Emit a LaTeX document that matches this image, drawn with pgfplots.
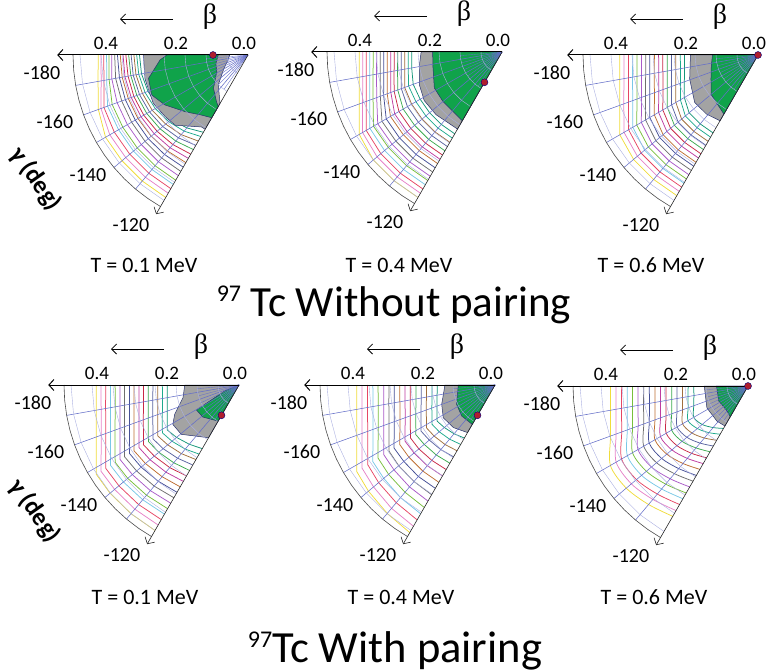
\documentclass[border=0pt]{standalone}
\usepackage{pgfplots}
\pgfplotsset{compat=1.18}
\usepackage{pgfplotstable}
\usepackage{fontspec}
\setmainfont{Carlito}
\newfontfamily\serifb{Liberation Serif}
\usetikzlibrary{arrows.meta}

\definecolor{c0}{RGB}{240,220,60}
\definecolor{c1}{RGB}{230,130,200}
\definecolor{c2}{RGB}{230,70,100}
\definecolor{c3}{RGB}{120,200,230}
\definecolor{c4}{RGB}{120,190,60}
\definecolor{c5}{RGB}{170,90,200}
\definecolor{c6}{RGB}{110,110,110}
\definecolor{c7}{RGB}{70,80,150}
\definecolor{c8}{RGB}{190,110,50}
\definecolor{c9}{RGB}{190,60,160}
\definecolor{c10}{RGB}{200,40,70}
\definecolor{c11}{RGB}{60,170,80}
\definecolor{c12}{RGB}{90,100,160}
\definecolor{c13}{RGB}{160,110,60}
\definecolor{c14}{RGB}{30,170,140}
\definecolor{c15}{RGB}{20,150,120}
\definecolor{rgreen}{RGB}{16,163,74}
\definecolor{rgray}{RGB}{163,163,163}
\definecolor{bnd}{RGB}{40,50,110}
\definecolor{meshc}{RGB}{100,110,200}
\definecolor{dotred}{RGB}{175,30,45}

\pgfplotsset{
 panel/.style={x=350pt,y=350pt,xmin=-0.62,xmax=0.05,ymin=-0.56,ymax=0.05,
   hide axis,clip=false,data cs=polar,anchor=south west},
 cl/.style={line width=0.75pt,mark=none},
}

\pgfplotstableread{
g c0 c1 c2 c3 c4 c5 c6 c7 c8 c9 c10 c11 c12 c13 c14 c15
-180 0.428 0.420 0.412 0.404 0.397 0.389 0.381 0.373 0.365 0.357 0.349 0.341 0.334 0.326 0.318 0.310
-170 0.435 0.426 0.418 0.410 0.403 0.395 0.384 0.373 0.365 0.357 0.348 0.340 0.333 0.325 0.317 0.309
-160 0.455 0.447 0.438 0.427 0.413 0.398 0.384 0.373 0.364 0.355 0.347 0.338 0.330 0.321 0.313 0.304
-150 0.470 0.456 0.441 0.427 0.413 0.398 0.384 0.372 0.363 0.353 0.344 0.334 0.325 0.316 0.306 0.296
-140 0.470 0.456 0.441 0.427 0.413 0.398 0.384 0.372 0.361 0.350 0.339 0.328 0.318 0.307 0.296 0.286
-130 0.470 0.456 0.441 0.427 0.413 0.398 0.384 0.371 0.358 0.346 0.334 0.321 0.309 0.297 0.284 0.272
-120 0.470 0.456 0.441 0.427 0.413 0.398 0.384 0.370 0.355 0.341 0.327 0.312 0.298 0.284 0.269 0.255
}\tabA

\pgfplotstableread{
g c0 c1 c2 c3 c4 c5 c6 c7 c8 c9 c10 c11 c12 c13 c14 c15
-180 0.408 0.398 0.388 0.378 0.368 0.358 0.348 0.338 0.328 0.318 0.308 0.298 0.288 0.278 0.268 0.258
-170 0.414 0.404 0.394 0.384 0.374 0.364 0.353 0.343 0.333 0.323 0.313 0.303 0.292 0.282 0.272 0.262
-160 0.434 0.424 0.413 0.402 0.392 0.381 0.370 0.360 0.349 0.338 0.328 0.317 0.306 0.296 0.284 0.270
-150 0.471 0.460 0.448 0.436 0.424 0.410 0.396 0.382 0.368 0.354 0.340 0.326 0.312 0.298 0.284 0.270
-140 0.480 0.466 0.452 0.438 0.424 0.410 0.396 0.382 0.368 0.354 0.340 0.326 0.312 0.298 0.284 0.270
-130 0.480 0.466 0.452 0.438 0.424 0.410 0.396 0.382 0.368 0.354 0.340 0.326 0.312 0.298 0.284 0.270
-120 0.480 0.466 0.452 0.438 0.424 0.410 0.396 0.382 0.368 0.354 0.340 0.326 0.312 0.298 0.284 0.270
}\tabB

\pgfplotstableread{
g c0 c1 c2 c3 c4 c5 c6 c7 c8 c9 c10 c11 c12 c13 c14 c15
-180 0.395 0.383 0.370 0.358 0.346 0.333 0.321 0.309 0.296 0.284 0.272 0.259 0.247 0.235 0.222 0.210
-170 0.401 0.389 0.376 0.364 0.351 0.338 0.326 0.314 0.301 0.288 0.276 0.263 0.251 0.239 0.225 0.213
-160 0.420 0.408 0.394 0.381 0.368 0.354 0.342 0.329 0.315 0.302 0.289 0.276 0.263 0.250 0.236 0.224
-150 0.456 0.442 0.427 0.413 0.400 0.385 0.371 0.357 0.342 0.328 0.314 0.299 0.285 0.271 0.256 0.243
-140 0.464 0.450 0.436 0.423 0.409 0.395 0.381 0.367 0.354 0.340 0.326 0.312 0.298 0.285 0.271 0.257
-130 0.464 0.450 0.436 0.423 0.409 0.395 0.381 0.367 0.354 0.340 0.326 0.312 0.298 0.285 0.271 0.257
-120 0.464 0.450 0.436 0.423 0.409 0.395 0.381 0.367 0.354 0.340 0.326 0.312 0.298 0.285 0.271 0.257
}\tabC

\pgfplotstableread{
g c0 c1 c2 c3 c4 c5 c6 c7 c8 c9 c10 c11 c12 c13 c14 c15
-180 0.408 0.394 0.381 0.367 0.354 0.340 0.327 0.313 0.300 0.286 0.273 0.259 0.246 0.232 0.219 0.205
-170 0.414 0.400 0.387 0.373 0.359 0.345 0.332 0.318 0.305 0.290 0.277 0.263 0.250 0.236 0.222 0.208
-160 0.434 0.419 0.405 0.391 0.377 0.362 0.348 0.333 0.319 0.304 0.291 0.276 0.262 0.247 0.233 0.218
-150 0.471 0.455 0.440 0.424 0.409 0.393 0.378 0.361 0.346 0.330 0.315 0.299 0.284 0.268 0.253 0.237
-148 0.481 0.465 0.449 0.433 0.417 0.401 0.386 0.369 0.354 0.337 0.322 0.305 0.290 0.274 0.258 0.242
-140 0.481 0.464 0.448 0.431 0.415 0.398 0.382 0.365 0.349 0.332 0.316 0.299 0.283 0.266 0.250 0.233
-130 0.480 0.463 0.446 0.428 0.411 0.394 0.377 0.359 0.342 0.325 0.308 0.290 0.273 0.256 0.239 0.221
-120 0.480 0.462 0.444 0.426 0.408 0.390 0.372 0.354 0.336 0.318 0.300 0.282 0.264 0.246 0.228 0.210
}\tabD

\pgfplotstableread{
g c0 c1 c2 c3 c4 c5 c6 c7 c8 c9 c10 c11 c12 c13 c14 c15
-180 0.395 0.380 0.364 0.349 0.334 0.318 0.303 0.288 0.272 0.257 0.242 0.226 0.211 0.196 0.180 0.165
-170 0.401 0.386 0.370 0.354 0.339 0.323 0.308 0.292 0.276 0.261 0.246 0.229 0.214 0.199 0.183 0.168
-160 0.420 0.404 0.387 0.371 0.355 0.338 0.322 0.306 0.289 0.273 0.258 0.241 0.225 0.209 0.192 0.176
-150 0.456 0.439 0.420 0.403 0.386 0.367 0.350 0.333 0.314 0.297 0.279 0.261 0.244 0.226 0.208 0.191
-148 0.466 0.448 0.429 0.412 0.394 0.375 0.357 0.340 0.321 0.303 0.285 0.267 0.249 0.231 0.212 0.195
-140 0.472 0.453 0.434 0.415 0.397 0.377 0.359 0.340 0.321 0.302 0.284 0.264 0.245 0.227 0.208 0.189
-130 0.479 0.460 0.439 0.420 0.400 0.380 0.360 0.341 0.321 0.301 0.281 0.261 0.241 0.222 0.202 0.182
-120 0.487 0.466 0.445 0.425 0.404 0.383 0.362 0.341 0.321 0.300 0.279 0.258 0.237 0.217 0.196 0.175
}\tabE

\pgfplotstableread{
g c0 c1 c2 c3 c4 c5 c6 c7 c8 c9 c10 c11 c12 c13 c14 c15
-180 0.393 0.377 0.361 0.345 0.330 0.314 0.298 0.282 0.266 0.250 0.234 0.218 0.203 0.187 0.171 0.155
-170 0.399 0.383 0.367 0.350 0.335 0.319 0.303 0.286 0.270 0.254 0.238 0.221 0.206 0.190 0.174 0.157
-160 0.418 0.401 0.384 0.367 0.351 0.334 0.317 0.300 0.283 0.266 0.249 0.232 0.216 0.199 0.182 0.165
-150 0.454 0.435 0.417 0.398 0.381 0.363 0.344 0.326 0.307 0.289 0.270 0.252 0.234 0.216 0.198 0.179
-148 0.463 0.445 0.426 0.407 0.389 0.370 0.351 0.333 0.314 0.295 0.276 0.257 0.239 0.221 0.202 0.183
-140 0.454 0.435 0.416 0.397 0.379 0.360 0.341 0.322 0.303 0.284 0.265 0.246 0.228 0.209 0.189 0.171
-130 0.442 0.423 0.403 0.384 0.366 0.346 0.327 0.308 0.289 0.270 0.251 0.231 0.213 0.194 0.174 0.155
-120 0.430 0.411 0.391 0.372 0.353 0.333 0.314 0.295 0.275 0.256 0.237 0.217 0.198 0.179 0.159 0.140
}\tabF

\newcommand{\contours}[2][]{%
\addplot[cl,c0,#1] table[x=g,y=c0]{#2};
\addplot[cl,c1,#1] table[x=g,y=c1]{#2};
\addplot[cl,c2,#1] table[x=g,y=c2]{#2};
\addplot[cl,c3,#1] table[x=g,y=c3]{#2};
\addplot[cl,c4,#1] table[x=g,y=c4]{#2};
\addplot[cl,c5,#1] table[x=g,y=c5]{#2};
\addplot[cl,c6,#1] table[x=g,y=c6]{#2};
\addplot[cl,c7,#1] table[x=g,y=c7]{#2};
\addplot[cl,c8,#1] table[x=g,y=c8]{#2};
\addplot[cl,c9,#1] table[x=g,y=c9]{#2};
\addplot[cl,c10,#1] table[x=g,y=c10]{#2};
\addplot[cl,c11,#1] table[x=g,y=c11]{#2};
\addplot[cl,c12,#1] table[x=g,y=c12]{#2};
\addplot[cl,c13,#1] table[x=g,y=c13]{#2};
\addplot[cl,c14,#1] table[x=g,y=c14]{#2};
\addplot[cl,c15,#1] table[x=g,y=c15]{#2};
}

\newcommand{\mesh}{%
\pgfplotsinvokeforeach{-170,-160,-150,-140,-130}{\addplot[meshc,line width=0.55pt,mark=none] coordinates {(##1,0) (##1,0.5)};}%
\pgfplotsinvokeforeach{-175,-165,-155,-145,-135,-125}{\addplot[meshc,line width=0.35pt,mark=none] coordinates {(##1,0) (##1,0.12)};}%
\pgfplotsinvokeforeach{0.06,0.12,0.18,0.24,0.30,0.36,0.42,0.48}{\addplot[meshc!55,line width=0.4pt,mark=none] coordinates {(-180,##1) (-170,##1) (-160,##1) (-150,##1) (-140,##1) (-130,##1) (-120,##1)};}%
}

\newcommand{\outline}{%
\addplot[black!70,line width=0.6pt,mark=none] coordinates {(-180,0.5) (-175,0.5) (-170,0.5) (-165,0.5) (-160,0.5) (-155,0.5) (-150,0.5) (-145,0.5) (-140,0.5) (-135,0.5) (-130,0.5) (-125,0.5) (-120,0.5)};
\addplot[black!85,line width=0.6pt,mark=none,-{Straight Barb[length=5pt,width=11pt]}] coordinates {(-120,0) (-120,0.525)};
\addplot[black,line width=1pt,mark=none,-{Straight Barb[length=5pt,width=11pt]}] coordinates {(-180,0) (-180,0.545)};
}

\newcommand{\rdot}[2]{\addplot[only marks,mark=*,mark size=3.5pt,mark options={fill=dotred,draw=blue!50!black,line width=0.4pt}] coordinates {(#1,#2)};}

\newcommand{\plabels}[2]{%
\node[font=\fontsize{19}{19}\selectfont] at ({#1-4},{-#2+12}) {0.0};
\node[font=\fontsize{19}{19}\selectfont] at ({#1-72},{-#2+12}) {0.2};
\node[font=\fontsize{19}{19}\selectfont] at ({#1-142},{-#2+12}) {0.4};
\draw[line width=0.8pt,-{Straight Barb[length=5pt,width=10pt]}] ({#1-75},{-#2+36}) -- ({#1-128},{-#2+36});
\node[font=\serifb\fontsize{28}{28}\selectfont] at ({#1-38},{-#2+38}) {β};
\node[font=\fontsize{20}{20}\selectfont] at ({#1-206},{-#2-18}) {-180};
\node[font=\fontsize{20}{20}\selectfont] at ({#1-193},{-#2-67}) {-160};
\node[font=\fontsize{20}{20}\selectfont] at ({#1-160},{-#2-120}) {-140};
\node[font=\fontsize{20}{20}\selectfont] at ({#1-117},{-#2-170}) {-120};
}

\begin{document}
\begin{tikzpicture}[x=1pt,y=1pt]
\useasboundingbox (0pt,0pt) rectangle (769pt,-672pt);

% ---------- Panel 1: no pairing, T=0.1
\begin{axis}[panel,at={(31pt,-251pt)}]
\contours{\tabA}
\addplot[fill=rgray,draw=bnd,line width=0.5pt] coordinates {(-180,0.052) (-180,0.299) (-167,0.302) (-153,0.304) (-143.4,0.295) (-136,0.289) (-123,0.245) (-120,0.245) (-120,0.16) (-135,0.12) (-150,0.08) (-165,0.06) (-180,0.052)};
\addplot[fill=rgreen,draw=bnd,line width=0.5pt] coordinates {(-180,0.232) (-176.7,0.252) (-166.8,0.292) (-157.5,0.298) (-149,0.277) (-138,0.242) (-127.7,0.217) (-120,0.207) (-120,0.17) (-124,0.161) (-136,0.137) (-152,0.101) (-165,0.095) (-180,0.085) (-180,0.232)};
\mesh
\outline
\rdot{-180}{0.10}
\end{axis}

% ---------- Panel 2: no pairing, T=0.4
\begin{axis}[panel,at={(285pt,-248pt)}]
\contours{\tabB}
\addplot[fill=rgray,draw=bnd,line width=0.5pt] coordinates {(-180,0) (-180,0.231) (-171,0.239) (-158.4,0.254) (-148,0.262) (-136.5,0.26) (-121.2,0.254) (-120,0.255) (-120,0) (-180,0)};
\addplot[fill=rgreen,draw=bnd,line width=0.5pt] coordinates {(-180,0) (-180,0.198) (-169.6,0.201) (-152,0.219) (-140.3,0.220) (-129.7,0.220) (-120,0.227) (-120,0) (-180,0)};
\mesh
\outline
\rdot{-120}{0.10}
\end{axis}

% ---------- Panel 3: no pairing, T=0.6
\begin{axis}[panel,at={(541pt,-251pt)}]
\contours{\tabC}
\addplot[fill=rgray,draw=bnd,line width=0.5pt] coordinates {(-180,0) (-180,0.193) (-160.6,0.207) (-143.2,0.226) (-131.2,0.224) (-120,0.217) (-120,0) (-180,0)};
\addplot[fill=rgreen,draw=bnd,line width=0.5pt] coordinates {(-180,0) (-180,0.130) (-167,0.137) (-153.6,0.150) (-140,0.175) (-120,0.195) (-120,0) (-180,0)};
\mesh
\outline
\rdot{-180}{0}
\end{axis}

% ---------- Panel 4: pairing, T=0.1
\begin{axis}[panel,at={(22pt,-581pt)}]
\contours{\tabD}
\addplot[fill=rgray,draw=bnd,line width=0.5pt] coordinates {(-180,0) (-180,0.155) (-167.3,0.164) (-155.5,0.202) (-149.2,0.22) (-139.5,0.217) (-131,0.193) (-120,0.174) (-120,0) (-180,0)};
\addplot[fill=rgreen,draw=bnd,line width=0.5pt] coordinates {(-155,0) (-157.3,0.044) (-152.5,0.078) (-149.6,0.141) (-138.4,0.138) (-128.9,0.126) (-120,0.119) (-120,0) (-155,0)};
\mesh
\outline
\rdot{-120}{0.10}
\end{axis}

% ---------- Panel 5: pairing, T=0.4
\begin{axis}[panel,at={(278pt,-581pt)}]
\contours{\tabE}
\addplot[fill=rgray,draw=bnd,line width=0.5pt] coordinates {(-180,0) (-180,0.143) (-160.1,0.162) (-147.7,0.175) (-134.3,0.170) (-120,0.157) (-120,0) (-180,0)};
\addplot[fill=rgreen,draw=bnd,line width=0.5pt] coordinates {(-180,0) (-180,0.105) (-153.2,0.123) (-137.1,0.130) (-123.6,0.129) (-120,0.13) (-120,0) (-180,0)};
\mesh
\outline
\rdot{-120}{0.10}
\end{axis}

% ---------- Panel 6: pairing, T=0.6
\begin{axis}[panel,at={(531pt,-582pt)}]
\contours[smooth,skip coords between index={4}{5}]{\tabF}
\addplot[fill=rgray,draw=bnd,line width=0.5pt] coordinates {(-180,0) (-180,0.125) (-152,0.133) (-131.5,0.134) (-120,0.132) (-120,0) (-180,0)};
\addplot[fill=rgreen,draw=bnd,line width=0.5pt] coordinates {(-180,0) (-180,0.09) (-153,0.094) (-130,0.093) (-120,0.102) (-120,0) (-180,0)};
\mesh
\outline
\rdot{-180}{0}
\end{axis}

\plabels{248}{55}
\plabels{502}{52}
\plabels{758}{55}
\plabels{239}{385}
\plabels{495}{385}
\plabels{748}{386}

\node[font=\bfseries\fontsize{25}{25}\selectfont,rotate=-55] at (36,-179) {γ (deg)};
\node[font=\bfseries\fontsize{25}{25}\selectfont,rotate=-55] at (35,-511) {γ (deg)};

\node[font=\fontsize{22}{22}\selectfont] at (144,-265) {T = 0.1 MeV};
\node[font=\fontsize{22}{22}\selectfont] at (399,-265) {T = 0.4 MeV};
\node[font=\fontsize{22}{22}\selectfont] at (651,-265) {T = 0.6 MeV};
\node[font=\fontsize{22}{22}\selectfont] at (145,-597) {T = 0.1 MeV};
\node[font=\fontsize{22}{22}\selectfont] at (401,-597) {T = 0.4 MeV};
\node[font=\fontsize{22}{22}\selectfont] at (654,-597) {T = 0.6 MeV};

\node[anchor=base,font=\fontsize{43}{43}\selectfont] at (394,-316) {\raisebox{15pt}{\fontsize{24}{24}\selectfont 97} Tc Without pairing};
\node[anchor=base,font=\fontsize{44.5}{44.5}\selectfont] at (395,-662) {\raisebox{15pt}{\fontsize{24}{24}\selectfont 97}Tc With pairing};
\end{tikzpicture}
\end{document}
